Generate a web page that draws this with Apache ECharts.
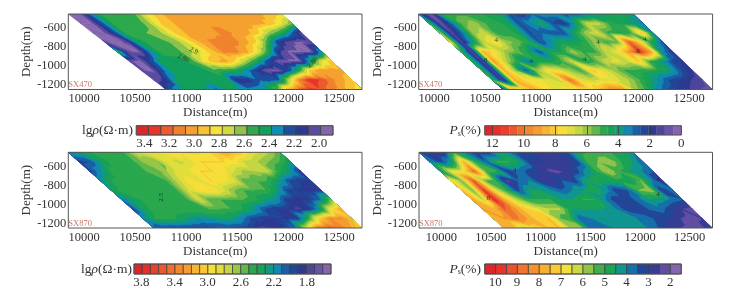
<!DOCTYPE html>
<html><head><meta charset="utf-8">
<style>html,body{margin:0;padding:0;background:#fff}#c{width:746px;height:291px}</style>
<script src="https://cdn.jsdelivr.net/npm/echarts@6/dist/echarts.min.js"></script></head>
<body><div id="c"></div>
<script>
// ---- data ----
const depths=[-450,-550,-650,-750,-850,-950,-1050,-1150,-1250];
const distanceTicks=[10000,10500,11000,11500,12000,12500];
const depthTicks=[-600,-800,-1000,-1200];
const rhoSX470=[
[1.95,1.95,2.3,2.5,2.52,2.52,2.58,2.8,2.95,3.0,3.0,3.05,3.05,3.05,3.05,3.05,3.0,3.0,2.95,2.85],
[1.95,1.95,2.25,2.5,2.52,2.52,2.6,2.85,2.95,3.0,3.05,3.05,3.05,3.05,3.05,3.05,3.0,2.95,2.8,2.6],
[1.95,1.95,2.2,2.5,2.55,2.58,2.62,2.8,2.95,3.0,3.0,3.05,3.1,3.05,3.0,2.9,2.65,2.5,2.3,2.0],
[2.0,1.95,2.0,2.4,2.5,2.52,2.58,2.68,2.85,3.0,3.1,3.12,3.1,3.0,2.85,2.5,2.15,2.0,1.95,2.0],
[2.5,2.0,1.95,2.3,2.5,2.52,2.58,2.68,2.8,2.95,3.1,3.1,3.0,2.8,2.5,2.1,1.95,1.95,1.95,2.4],
[2.0,1.95,2.2,2.45,2.45,2.45,2.55,2.8,2.95,3.0,2.85,2.65,2.45,2.2,1.95,1.95,1.95,2.4,2.75,2.95],
[2.0,1.95,2.25,2.45,2.45,2.45,2.45,2.55,2.5,2.45,2.3,2.15,1.95,1.95,2.2,2.5,2.9,3.05,3.05,3.0],
[2.0,2.1,2.4,2.45,2.45,2.45,2.42,2.42,2.1,2.12,2.25,2.2,2.25,2.7,3.1,3.35,3.25,3.1,3.0,2.9],
[2.1,2.35,2.45,2.45,2.42,2.25,2.4,2.38,2.3,2.35,2.42,2.6,3.0,3.2,3.3,3.25,3.1,3.02,2.9,2.8]];
const psSX470=[
[3,0.5,4.5,5,5,5,4.5,4.5,2.5,2,3,3.5,3.5,2.5,2.5,3.5,4,4.5,4.5,3.5],
[5,0.7,3,5.5,6,5.2,4.8,4.5,2.5,3.5,4.5,2.5,2,4,6.5,6.5,5,4.5,4,3.5],
[6,1,3,6,6.5,5,5,4.5,2.5,3,2.5,2.5,4.5,6,6.8,5,4.5,5,8,3.5],
[7,1,4,6.5,7.5,6,5.5,4.8,2.5,3.5,4.5,4.5,4.8,6,5,5.5,10.5,7.5,4.5,2.5],
[5,0.8,8.5,7.5,6,5.5,4.5,2.5,4.5,4.5,6,5,5,6.5,7,9,11.5,9,3.5,2],
[5,1,9,6.5,5,3,4.5,4.5,5,6.5,4.5,5,6.5,7,6.5,8,5,4,2.5,2],
[5,1,8.5,6,2.5,6,7.5,7,6,5,8,7,6,5,5,4.8,4.5,4,2.5,1.5],
[5,1,8.5,7.5,7.5,7,6.5,10,7,6.5,7,7,6.5,5.5,4.5,3.5,2.5,2,1.5,1],
[1.5,8.5,8,8.5,7.5,7,7.5,7.5,7.5,8.5,9.5,9,6,5,3.5,2.5,2,1.5,1,0.8]];
const rhoSX870=[
[2.2,2.3,2.4,2.45,2.5,2.5,2.75,2.85,2.9,3.0,2.9,2.85,2.9,3.05,3.2,3.1,2.9,2.8,2.7,2.5],
[1.95,2.0,2.3,2.45,2.5,2.5,2.65,2.6,2.85,2.75,2.85,3.0,3.0,3.0,2.95,2.75,2.7,2.6,2.5,2.3],
[1.95,2.2,2.45,2.5,2.5,2.5,2.52,2.7,2.85,2.9,3.0,3.0,2.95,2.8,2.65,2.7,2.75,2.45,2.25,1.9],
[2.2,2.4,2.5,2.5,2.5,2.5,2.5,2.75,2.95,2.85,3.0,2.95,2.85,2.52,2.52,2.5,2.3,2.0,1.9,1.9],
[2.35,2.45,2.5,2.5,2.5,2.5,2.5,2.8,2.95,3.0,2.85,2.62,2.5,2.5,2.5,2.3,1.95,1.9,1.85,1.9],
[2.1,2.3,2.45,2.5,2.5,2.5,2.5,2.8,2.52,2.5,2.5,2.5,2.45,2.3,2.2,1.9,1.85,1.9,2.1,2.6],
[1.95,2.35,2.45,2.5,2.5,2.5,2.5,2.5,2.5,2.5,2.4,2.25,2.0,1.9,1.9,1.75,1.85,2.2,2.9,3.2],
[2.2,2.4,2.45,2.4,2.3,2.2,2.2,2.3,2.3,2.15,1.95,1.9,1.9,1.9,1.9,2.4,3.0,3.3,3.3,3.1],
[2.1,2.0,1.95,1.95,1.95,1.95,2.0,2.0,1.95,1.9,1.75,1.85,1.9,2.1,2.8,3.4,3.5,3.4,3.2,3.0]];
const psSX870=[
[3.5,2.5,2.5,5,4,3,3,4.5,4,3,3,3,3,3,4.8,5,5,5,5,4],
[4,3.2,4.5,7.5,5,3.5,5,5,4.5,3,3,2.8,2.5,3,5,5.5,6,5,4.5,3.5],
[4.5,6.5,6.5,8.8,5.5,5,3,3.8,3.2,2.8,2.3,2.5,3,4.2,5,6,5,4.5,4,3.5],
[7,5.5,9,5.5,5,2.2,3.5,4,3,2.5,3.5,3,4.5,5,4.8,4.8,4.5,5.5,4,2.5],
[7.5,5.5,9.5,6.5,5,3.2,4.5,4.5,4,3.5,4,4.5,5,4.2,3,3.5,5.5,5.8,3,3.8],
[8,6,9.8,7.5,6,5,5,5,4.5,4.5,5,5,4,3,3,3.8,4.5,4.3,3.8,3.5],
[8,7.5,9,8,7,6.5,6,6,4.5,4.5,4.5,4.5,4,3.2,3,3.5,3.8,3.2,2.5,2.2],
[7.5,8,8.7,8,7.2,7.5,5.5,5,3.5,4,4.3,4.3,4.2,4,3.8,3.2,3,2.5,2.2,2.5],
[7.5,7.5,6,7,7.5,7.5,6,6,3.5,3.8,4,4,4.2,4,3.5,3,2.5,2.3,2.3,3]];
// survey extents: [left at top, left at bottom, right at top, right at bottom] in metres
const extent470rho=[9846,10804,11938,12725];
const extent470ps=[9850,10676,11951,12730];
const extent870rho=[9846,10683,11922,12725];
const extent870ps=[9776,10630,11930,12727];
const scaleTicks470rho=[3.4,3.2,3.0,2.8,2.6,2.4,2.2,2.0];
const scaleTicks470ps=[12,10,8,6,4,2,0];
const scaleTicks870rho=[3.8,3.4,3.0,2.6,2.2,1.8];
const scaleTicks870ps=[10,9,8,7,6,5,4,3,2];
const scaleRange470rho=[3.464,1.888], scaleRange470ps=[12.48,0], scaleRange870rho=[3.89,1.51], scaleRange870ps=[10.48,1.5];
const contourLabels470rho=[[11062,-831,'2.9',-25],[10958,-909,'2.86',-25],[12265,-948,'2.86',45]];
const contourLabels470ps=[[10507,-937,'8',0],[12000,-839,'8',0],[10611,-725,'4',0],[11608,-743,'4',0],[12066,-715,'4',0],[11477,-919,'4',0],[10954,-948,'4',0]];
const contourLabels870rho=[[10787,-884,'2.5',90]];
const contourLabels870ps=[[10472,-931,'8',0],[10740,-637,'4',0],[12181,-725,'4',0],[12181,-884,'4',0]];

// ---- style ----
const ramp=['#e0252a','#e8352a','#ec5a2d','#f0822f','#f5a030','#f9c232','#f7e23a','#cfdb40','#8fc34b','#2fa94c','#12a05a','#0f8fb5','#1d4f9e','#2b3990','#5b4ba0','#8566ae'];
const FONT='"Liberation Serif","Times New Roman",serif', TXT='#333', FRAME='#555';
function hex(h){return [1,3,5].map(i=>parseInt(h.substr(i,2),16));}
function cellColors(n){const out=[];for(let i=0;i<n;i++){const f=i/(n-1)*(ramp.length-1),a=Math.floor(f),b=Math.min(a+1,ramp.length-1),t=f-a,A=hex(ramp[a]),B=hex(ramp[b]);out.push('rgb('+A.map((v,k)=>Math.round(v+(B[k]-v)*t)).join(',')+')');}return out;}

const panels=[
 {m:rhoSX470,ext:extent470rho,tag:'SX470',labels:contourLabels470rho,box:[68.3,14,293.7,75.5],xr:[9846,12725],
  bar:{range:scaleRange470rho,ticks:scaleTicks470rho,n:16,box:[136.3,125.7,196.7,9.3],each:true},title:'rho',tx:133,ty:130.5},
 {m:psSX470,ext:extent470ps,tag:'SX470',labels:contourLabels470ps,box:[418.7,14,293.9,75.5],xr:[9850,12730],
  bar:{range:scaleRange470ps,ticks:scaleTicks470ps,n:24,box:[484.7,125.7,196.6,9.3],each:false},title:'ps',tx:481,ty:130.5},
 {m:rhoSX870,ext:extent870rho,tag:'SX870',labels:contourLabels870rho,box:[68.3,152.3,293.7,75.7],xr:[9846,12725],
  bar:{range:scaleRange870rho,ticks:scaleTicks870rho,n:24,box:[134,264,197,10],each:true},title:'rho',tx:132,ty:269},
 {m:psSX870,ext:extent870ps,tag:'SX870',labels:contourLabels870ps,box:[419,152.3,293.5,75.7],xr:[9776,12729],
  bar:{range:scaleRange870ps,ticks:scaleTicks870ps,n:18,box:[484.7,264,196.6,10],each:true},title:'ps',tx:481,ty:269}
];

// keep the part of a triangle whose value is at or above a contour level
function above(P,limit){const R=[];for(let i=0;i<P.length;i++){const a=P[i],b=P[(i+1)%P.length],ia=a[2]>=limit,ib=b[2]>=limit;
  if(ia)R.push(a);
  if(ia!==ib){const t=(limit-a[2])/(b[2]-a[2]);R.push([a[0]+(b[0]-a[0])*t,a[1]+(b[1]-a[1])*t,limit]);}}
  return R;}
// one data item per colour band; bands are painted from the lowest value upward
function bandRenderer(p){
  const nr=p.m.length,nc=p.m[0].length,[hi,lo]=p.bar.range,N=p.bar.n,cols=cellColors(N),w=(hi-lo)/N;
  const vert=(api,r,c)=>{const t=r/(nr-1),l=p.ext[0]+(p.ext[1]-p.ext[0])*t,rr=p.ext[2]+(p.ext[3]-p.ext[2])*t;
    const pt=api.coord([l+(rr-l)*c/(nc-1),depths[r]]);return [pt[0],pt[1],p.m[r][c]];};
  return function(params,api){
    const i=api.value(0),level=i===N-1?-Infinity:hi-(i+1)*w,children=[];
    for(let r=0;r<nr-1;r++)for(let c=0;c<nc-1;c++){
      const a=vert(api,r,c),b=vert(api,r,c+1),d=vert(api,r+1,c),e=vert(api,r+1,c+1);
      [[a,b,e],[a,e,d]].forEach(tri=>{
        const P=above(tri,level);
        if(P.length>=3)children.push({type:'polygon',silent:true,shape:{points:P.map(q=>[q[0],q[1]])},style:{fill:cols[i],stroke:cols[i],lineWidth:0.5,lineJoin:'round'}});
      });
    }
    return {type:'group',children};
  };
}
function barRenderer(b){
  const cols=cellColors(b.n),[hi,lo]=b.range,w=(hi-lo)/b.n;
  return function(params,api){
    const i=api.value(0),p0=api.coord([hi-i*w,0]),p1=api.coord([hi-(i+1)*w,1]);
    return {type:'rect',silent:true,shape:{x:p0[0],y:p1[1],width:p1[0]-p0[0],height:p0[1]-p1[1]},
      style:{fill:cols[i],stroke:b.each?'#3a3a3a':cols[i],lineWidth:b.each?0.7:0.3}};
  };
}
const grid=[],xAxis=[],yAxis=[],series=[],graphic=[];
panels.forEach((p,k)=>{
  grid.push({left:p.box[0],top:p.box[1],width:p.box[2],height:p.box[3],show:true,borderColor:FRAME,borderWidth:1,backgroundColor:'transparent',z:10});
  xAxis.push({type:'value',gridIndex:k,min:p.xr[0],max:p.xr[1],splitLine:{show:false},axisLine:{show:false},axisTick:{show:false},
    axisLabel:{customValues:distanceTicks,formatter:v=>String(v),fontFamily:FONT,fontSize:12.5,color:TXT,margin:3,hideOverlap:false},
    name:'Distance(m)',nameLocation:'middle',nameGap:17,nameTextStyle:{fontFamily:FONT,fontSize:13,color:TXT}});
  yAxis.push({type:'value',gridIndex:k,min:-1250,max:-450,splitLine:{show:false},axisLine:{show:false},axisTick:{show:false},
    axisLabel:{customValues:depthTicks,formatter:v=>String(v),fontFamily:FONT,fontSize:12.5,color:TXT,margin:2,hideOverlap:false},
    name:'Depth(m)',nameLocation:'middle',nameGap:35,nameTextStyle:{fontFamily:FONT,fontSize:13,color:TXT}});
  const bands=[];for(let i=p.bar.n-1;i>=0;i--)bands.push([i]);
  series.push({type:'custom',xAxisIndex:k,yAxisIndex:k,coordinateSystem:'cartesian2d',renderItem:bandRenderer(p),data:bands,progressive:0,clip:true,silent:true,z:2,encode:{x:[],y:[]}});
  series.push({type:'scatter',xAxisIndex:k,yAxisIndex:k,symbolSize:0,silent:true,z:4,
    data:p.labels.map(l=>({value:[l[0],l[1]],name:l[2],label:{rotate:l[3]}})).concat([{value:[p.xr[0],-1200],name:p.tag,label:{position:'right',distance:0,color:'#b5533f',fontSize:8.5,rotate:0}}]),
    label:{show:true,position:'top',distance:-4,formatter:'{b}',fontFamily:FONT,fontSize:7,color:'#222'}});
});
panels.forEach((p,k)=>{
  const g=k+4,b=p.bar;
  grid.push({left:b.box[0],top:b.box[1],width:b.box[2],height:b.box[3],show:true,borderColor:FRAME,borderWidth:1,backgroundColor:'transparent',z:10});
  xAxis.push({type:'value',gridIndex:g,inverse:true,min:b.range[1],max:b.range[0],splitLine:{show:false},axisLine:{show:false},
    axisTick:b.each?{show:false}:{show:true,inside:true,length:b.box[3],customValues:b.ticks,lineStyle:{color:'#3a3a3a',width:0.8}},
    axisLabel:{customValues:b.ticks,formatter:v=>k%2===0?v.toFixed(1):String(v),fontFamily:FONT,fontSize:13,color:TXT,margin:2,hideOverlap:false,showMinLabel:true,showMaxLabel:true},z:5});
  yAxis.push({type:'value',gridIndex:g,min:0,max:1,show:false});
  const ids=[];for(let i=0;i<b.n;i++)ids.push([i]);
  series.push({type:'custom',xAxisIndex:g,yAxisIndex:g,coordinateSystem:'cartesian2d',renderItem:barRenderer(b),data:ids,progressive:0,clip:false,silent:true,z:2,encode:{x:[],y:[]}});
  const isRho=p.title==='rho';
  graphic.push({type:'text',silent:true,x:p.tx,y:p.ty,style:{
    text:isRho?'lg{i|ρ}(Ω·m)':'{i|P}{s|s}(%)',align:'right',verticalAlign:'middle',fontFamily:FONT,fontSize:13.5,fill:TXT,
    rich:{i:{fontFamily:FONT,fontStyle:'italic',fontSize:13.5,fill:TXT},s:{fontFamily:FONT,fontSize:8,fill:TXT,verticalAlign:'bottom',padding:[6,0,0,0]}}}});
});
const chart=echarts.init(document.getElementById('c'),null,{renderer:'canvas',width:746,height:291});
chart.setOption({animation:false,backgroundColor:'#fff',tooltip:{show:false},grid,xAxis,yAxis,series,graphic});
</script></body></html>
